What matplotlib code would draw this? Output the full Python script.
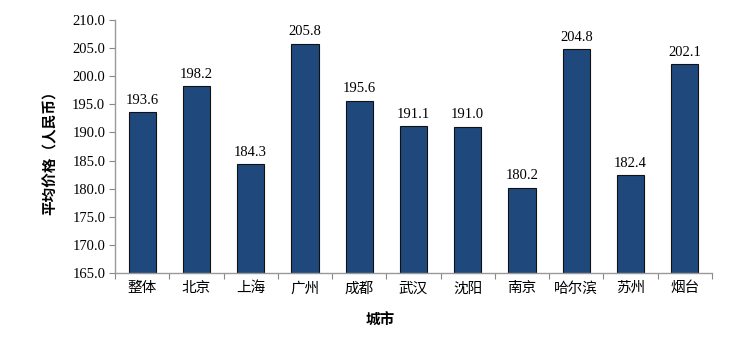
import matplotlib
matplotlib.use("Agg")
import matplotlib.pyplot as plt

plt.rcParams['font.family'] = ['Liberation Serif', 'Noto Sans CJK SC', 'DejaVu Sans']

cities = ["整体", "北京", "上海", "广州", "成都", "武汉", "沈阳", "南京", "哈尔滨", "苏州", "烟台"]
prices = [193.6, 198.2, 184.3, 205.8, 195.6, 191.1, 191.0, 180.2, 204.8, 182.4, 202.1]
yticks = [165.0, 170.0, 175.0, 180.0, 185.0, 190.0, 195.0, 200.0, 205.0, 210.0]

fig = plt.figure(figsize=(7.41, 3.42), dpi=100)
ax = fig.add_axes([115/741, 1-273/342, (712-115)/741, (273-20)/342])

x = list(range(len(cities)))
bars = ax.bar(x, prices, width=0.5, color="#1F497D", edgecolor="#111111", linewidth=0.8)
ax.set_ylim(165, 210)
ax.set_xlim(-0.5, len(cities) - 0.5)
ax.set_yticks(yticks)
ax.set_yticklabels([f"{v:.1f}" for v in yticks], fontsize=10.5)

for xi, v in zip(x, prices):
    ax.text(xi, v + 1.0, f"{v:.1f}", ha="center", va="bottom", fontsize=10.5)

ax.set_xticks([i + 0.5 for i in range(-1, len(cities))])
ax.set_xticklabels([])
ax.set_xticks(x, minor=True)
ax.set_xticklabels(cities, minor=True, fontsize=10.5, family=['Noto Sans CJK SC'])
ax.tick_params(axis='x', which='minor', length=0, pad=6)
ax.tick_params(axis='x', which='major', length=4, color="#888888", direction='out')
ax.tick_params(axis='y', length=4, color="#888888", direction='out', pad=3)

for s in ["top", "right"]:
    ax.spines[s].set_visible(False)
for s in ["left", "bottom"]:
    ax.spines[s].set_color("#999999")
    ax.spines[s].set_linewidth(1.0)

ax.set_ylabel("平均价格（人民币）", fontsize=10.5, fontweight="bold", family=['Noto Sans CJK SC'])
ax.yaxis.set_label_coords(-(115-58)/(712-115), 0.49)
ax.set_xlabel("城市", fontsize=10.5, fontweight="bold", family=['Noto Sans CJK SC'])
ax.xaxis.set_label_coords((380-115)/(712-115), -(312-273)/(273-20))

fig.savefig("out.png", dpi=100)
